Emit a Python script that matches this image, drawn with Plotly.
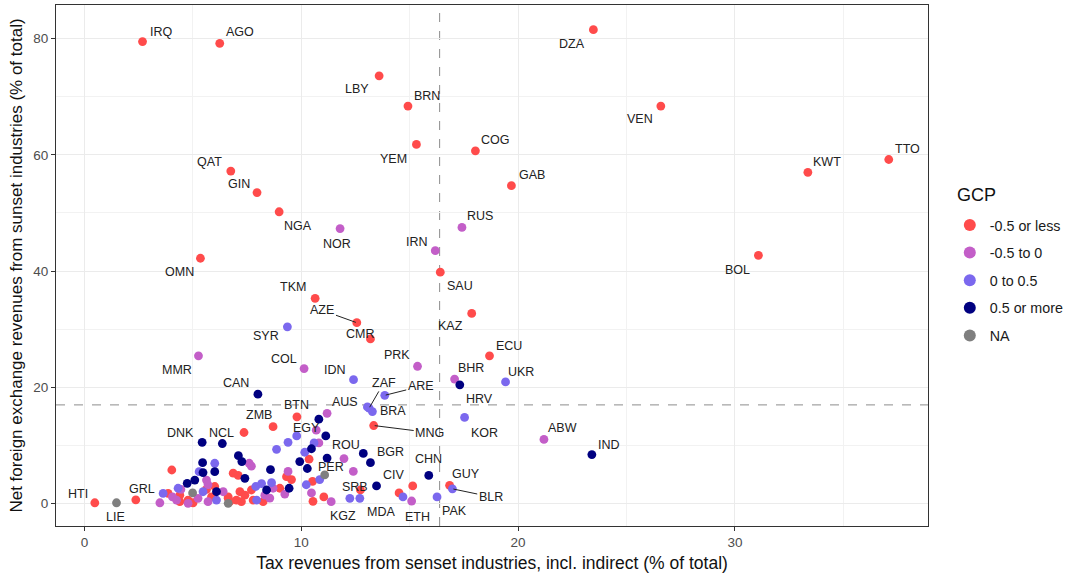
import plotly.graph_objects as go

# ---------------- data ----------------
GROUPS = ["-0.5 or less", "-0.5 to 0", "0 to 0.5", "0.5 or more", "NA"]
COLORS = ["#FF4B4B", "#C35EC8", "#7B68EE", "#000080", "#7F7F7F"]
LEGEND_TITLE = "GCP"

# GCP "-0.5 or less"
red_labels = ["IRQ", "AGO", "DZA", "LBY", "BRN", "VEN", "YEM", "COG", "QAT", "GIN",
              "NGA", "GAB", "KWT", "TTO", "OMN", "BOL", "SAU", "TKM", "AZE", "CMR",
              "KAZ", "ECU", "MNG", "BTN", "ZMB", "GUY", "HTI", "GRL",
              "", "", "", "", "", "", "", "", "", "",
              "", "", "", "", "", "", "", "", "", "",
              "", "", "", "", "", "", "", "", "", "",
              "", ""]
red_tax = [2.68, 6.24, 23.47, 13.59, 14.92, 26.58, 15.31, 18.03, 6.75, 7.96,
           8.98, 19.69, 33.36, 37.09, 5.35, 31.08, 16.41, 10.64, 12.56, 13.19,
           17.86, 18.68, 13.34, 9.80, 8.70, 16.84, 0.48, 2.37,
           7.36, 4.03, 10.36, 10.52, 10.54, 11.04, 12.73, 14.51, 15.14, 6.86,
           7.09, 9.32, 9.55, 9.01, 7.17, 7.40, 7.70, 6.63, 7.24, 7.78,
           8.24, 6.70, 6.01, 3.86, 4.40, 4.78, 5.63, 5.86, 6.63, 4.40,
           5.01, 7.01]
red_fx = [79.5, 79.2, 81.55, 73.6, 68.4, 68.4, 61.8, 60.7, 57.2, 53.5,
          50.2, 54.7, 57.0, 59.2, 42.2, 42.7, 39.8, 35.3, 31.1, 28.3,
          32.7, 25.4, 13.4, 14.9, 13.2, 3.1, 0.1, 0.6,
          12.2, 5.74, 7.6, 3.8, 0.35, 1.1, 2.3, 1.8, 3.0, 5.2,
          4.8, 4.6, 4.1, 2.6, 2.0, 1.4, 2.3, 1.1, 0.28, 0.57,
          0.28, 0.28, 2.9, 1.7, 1.4, 0.57, 2.4, 1.1, 0.86, 0.28,
          0.1, 0.57]

# GCP "-0.5 to 0"
purple_labels = ["NOR", "RUS", "IRN", "MMR", "COL", "PRK", "BHR", "ABW", "ROU", "KGZ",
                 "ETH", "", "", "", "", "", "", "", "", "",
                 "", "", "", "", "", "", "", "", "", "",
                 "", "", ""]
purple_tax = [11.79, 17.41, 16.18, 5.26, 10.13, 15.36, 17.07, 21.19, 11.97, 11.38,
              15.09, 11.19, 10.69, 10.81, 12.40, 10.47, 7.60, 7.70, 9.39, 8.70,
              8.32, 9.24, 6.40, 8.55, 5.63, 5.70, 3.48, 4.06, 4.25, 5.24,
              5.70, 4.78, 4.45]
purple_fx = [47.3, 47.5, 43.5, 25.4, 23.2, 23.6, 21.4, 11.0, 7.7, 0.28,
             0.4, 15.5, 12.6, 10.4, 5.5, 1.8, 6.9, 6.4, 5.5, 2.6,
             1.4, 1.6, 2.0, 0.9, 4.0, 3.2, 0.1, 1.1, 0.57, 0.86,
             0.28, 0.0, 2.4]

# GCP "0 to 0.5"
blue_labels = ["SYR", "IDN", "UKR", "KOR", "ARE", "AUS", "ZAF", "BRA", "BLR", "SRB",
               "MDA", "PAK", "", "", "", "", "", "", "", "",
               "", "", "", "", "", "", "", "", "", ""]
blue_tax = [9.36, 12.41, 19.42, 17.53, 13.85, 13.05, 13.13, 13.28, 16.97, 12.24,
            12.70, 16.26, 9.79, 9.39, 8.86, 10.16, 10.59, 10.85, 10.23, 14.69,
            7.90, 8.17, 8.63, 7.94, 6.01, 5.29, 4.32, 3.63, 5.47, 6.09]
blue_fx = [30.4, 21.3, 20.9, 14.8, 18.6, 16.6, 16.4, 15.8, 2.5, 0.86,
           0.86, 1.1, 11.6, 10.5, 9.3, 8.8, 10.4, 4.1, 3.2, 1.1,
           2.9, 3.4, 3.55, 0.57, 6.9, 5.45, 2.6, 1.7, 2.0, 0.57]

# GCP "0.5 or more"
navy_labels = ["CAN", "HRV", "DNK", "NCL", "EGY", "IND", "BGR", "CHN", "CIV",
               "", "", "", "", "", "", "", "", "", "",
               "", "", "", "", "", "", "", ""]
navy_tax = [8.00, 17.31, 5.43, 6.36, 11.13, 23.40, 12.86, 15.88, 13.47,
            10.81, 10.47, 9.93, 10.28, 11.19, 13.19, 7.10, 7.26, 7.40, 8.58,
            9.44, 8.40, 5.45, 6.01, 5.47, 5.09, 4.74, 6.09]
navy_fx = [18.8, 20.4, 10.5, 10.3, 11.6, 8.4, 8.6, 4.8, 3.0,
           14.5, 9.4, 7.2, 6.0, 7.8, 7.0, 8.2, 7.2, 4.3, 5.8,
           2.6, 2.3, 7.0, 5.45, 5.3, 4.0, 3.45, 2.0]

# GCP NA
na_labels = ["PER", "LIE", "", ""]
na_tax = [11.08, 1.48, 4.99, 6.63]
na_fx = [4.9, 0.1, 1.8, 0.0]

# reference lines (thresholds)
TAX_THRESHOLD = 16.38
FX_THRESHOLD = 16.95

X_TITLE = "Tax revenues from senset industries, incl. indirect (% of total)"
Y_TITLE = "Net foreign exchange revenues from sunset industries (% of total)"

# ---------------- label placement (pixel offsets from point) ----------------
LABEL_OFFSET = {
    "IRQ": (18.6, -9.6), "AGO": (20, -11.3), "DZA": (-21.4, 14.7), "LBY": (-22, 12.7),
    "BRN": (19, -10.3), "VEN": (-21.3, 13), "YEM": (-22.7, 14.3), "COG": (19.3, -11),
    "QAT": (-21, -9.6), "GIN": (-18, -8.7), "NGA": (19, 14.4), "NOR": (-2.6, 15),
    "GAB": (20.6, -11), "KWT": (19.4, -10), "TTO": (18.4, -10.4), "RUS": (18.4, -11.3),
    "IRN": (-18.2, -8.7), "OMN": (-21.4, 14.2), "BOL": (-21.3, 14.3), "SAU": (19.5, 13.7),
    "TKM": (-22, -11.6), "CMR": (-10, -5), "KAZ": (-21.3, 13), "SYR": (-21.7, 9.7),
    "ECU": (19.2, -9.8), "MMR": (-21.4, 14.3), "COL": (-20.3, -9.7), "PRK": (-20.5, -10.8),
    "IDN": (-18.8, -9.3), "BHR": (16, -11), "HRV": (19.8, 14.6), "UKR": (15.7, -9.6),
    "KOR": (20, 15.4), "CAN": (-22, -11), "AUS": (-22.3, -4.8), "BRA": (20.6, -1),
    "BTN": (-0.5, -11.7), "ZMB": (-14, -11.3), "DNK": (-21.3, -9.6), "NCL": (-0.8, -11),
    "EGY": (-19.3, -7.7), "ABW": (19, -11), "IND": (16.7, -9.7), "ROU": (2.4, -13.5),
    "BGR": (27.5, -1.8), "CHN": (0, -16), "PER": (6.7, -7.7), "GUY": (16, -11.3),
    "CIV": (17.2, -11), "SRB": (5, -11.6), "KGZ": (11.8, 14.3), "MDA": (21, 13.4),
    "ETH": (5.7, 15.7), "PAK": (17, 14.3), "HTI": (-16.7, -8.4), "GRL": (6.3, -10.7),
    "LIE": (-1, 14),
}
ARROW_OFFSET = {
    "AZE": (-34.3, -12.3), "ARE": (36, -9), "ZAF": (14.6, -25.2),
    "MNG": (56, 7), "BLR": (38.3, 8),
}

series = [
    (red_labels, red_tax, red_fx),
    (purple_labels, purple_tax, purple_fx),
    (blue_labels, blue_tax, blue_fx),
    (navy_labels, navy_tax, navy_fx),
    (na_labels, na_tax, na_fx),
]

FONT = "Liberation Sans, Arial, sans-serif"

fig = go.Figure()
annotations = []
for i, (labs, xs, ys) in enumerate(series):
    fig.add_trace(go.Scatter(
        x=xs, y=ys, mode="markers", name=GROUPS[i],
        legendgroup=GROUPS[i], text=labs,
        marker=dict(color=COLORS[i], size=8.8, line=dict(width=0)),
        hovertemplate="%{text}<br>%{x}, %{y}<extra></extra>",
    ))
    for lab, x, y in zip(labs, xs, ys):
        if not lab:
            continue
        if lab in ARROW_OFFSET:
            ax, ay = ARROW_OFFSET[lab]
            annotations.append(dict(
                x=x, y=y, xref="x", yref="y", text=lab, showarrow=True,
                ax=ax, ay=ay, arrowhead=0, arrowwidth=1, arrowcolor="#222222",
                standoff=1, font=dict(family=FONT, size=12.5, color="#222222"),
            ))
        else:
            dx, dy = LABEL_OFFSET.get(lab, (0, -10))
            annotations.append(dict(
                x=x, y=y, xref="x", yref="y", text=lab, showarrow=False,
                xshift=dx, yshift=-dy,
                font=dict(family=FONT, size=12.5, color="#222222"),
            ))

# legend title drawn as a text annotation above the legend entries
annotations.append(dict(
    x=1.031, y=0.635, xref="paper", yref="paper", xanchor="left", yanchor="middle",
    text=LEGEND_TITLE, showarrow=False,
    font=dict(family=FONT, size=18, color="#111111"),
))

shapes = [
    dict(type="line", xref="x", yref="paper", x0=TAX_THRESHOLD, x1=TAX_THRESHOLD,
         y0=0, y1=1, line=dict(color="#8C8C8C", width=1, dash="dash"), layer="between"),
    dict(type="line", xref="paper", yref="y", x0=0, x1=1, y0=FX_THRESHOLD, y1=FX_THRESHOLD,
         line=dict(color="#8C8C8C", width=1, dash="dash"), layer="between"),
]

axis_common = dict(
    showgrid=True, gridcolor="#EBEBEB", gridwidth=1.1,
    showline=True, mirror=True, linecolor="#333333", linewidth=1,
    ticks="outside", ticklen=4, tickcolor="#333333", tickwidth=1,
    tickfont=dict(family=FONT, size=13.5, color="#4D4D4D"),
    zeroline=False, automargin=False,
)

fig.update_layout(
    width=1068, height=575,
    margin=dict(l=56, r=140, t=5, b=49, autoexpand=False),
    plot_bgcolor="white", paper_bgcolor="white",
    font=dict(family=FONT),
    xaxis=dict(
        range=[-1.31, 38.9], tickvals=[0, 10, 20, 30],
        minor=dict(tickvals=[5, 15, 25, 35], showgrid=True, gridcolor="#F2F2F2",
                   gridwidth=0.6, ticks=""),
        title=dict(text=X_TITLE, font=dict(family=FONT, size=17.5, color="#111111"),
                   standoff=7),
        **axis_common,
    ),
    yaxis=dict(
        range=[-3.9, 85.8], tickvals=[0, 20, 40, 60, 80],
        minor=dict(tickvals=[10, 30, 50, 70], showgrid=True, gridcolor="#F2F2F2",
                   gridwidth=0.6, ticks=""),
        title=dict(text=Y_TITLE, font=dict(family=FONT, size=17, color="#111111"),
                   standoff=6),
        **axis_common,
    ),
    legend=dict(
        font=dict(family=FONT, size=14.3, color="#1A1A1A"),
        x=1.025, xanchor="left", y=0.608, yanchor="top",
        traceorder="grouped", tracegroupgap=6,
        bgcolor="rgba(0,0,0,0)", itemsizing="constant",
    ),
    annotations=annotations,
    shapes=shapes,
    showlegend=True,
)

fig.write_html("out.html", config={"displayModeBar": False},
               post_script="document.body.style.margin='0px';")
